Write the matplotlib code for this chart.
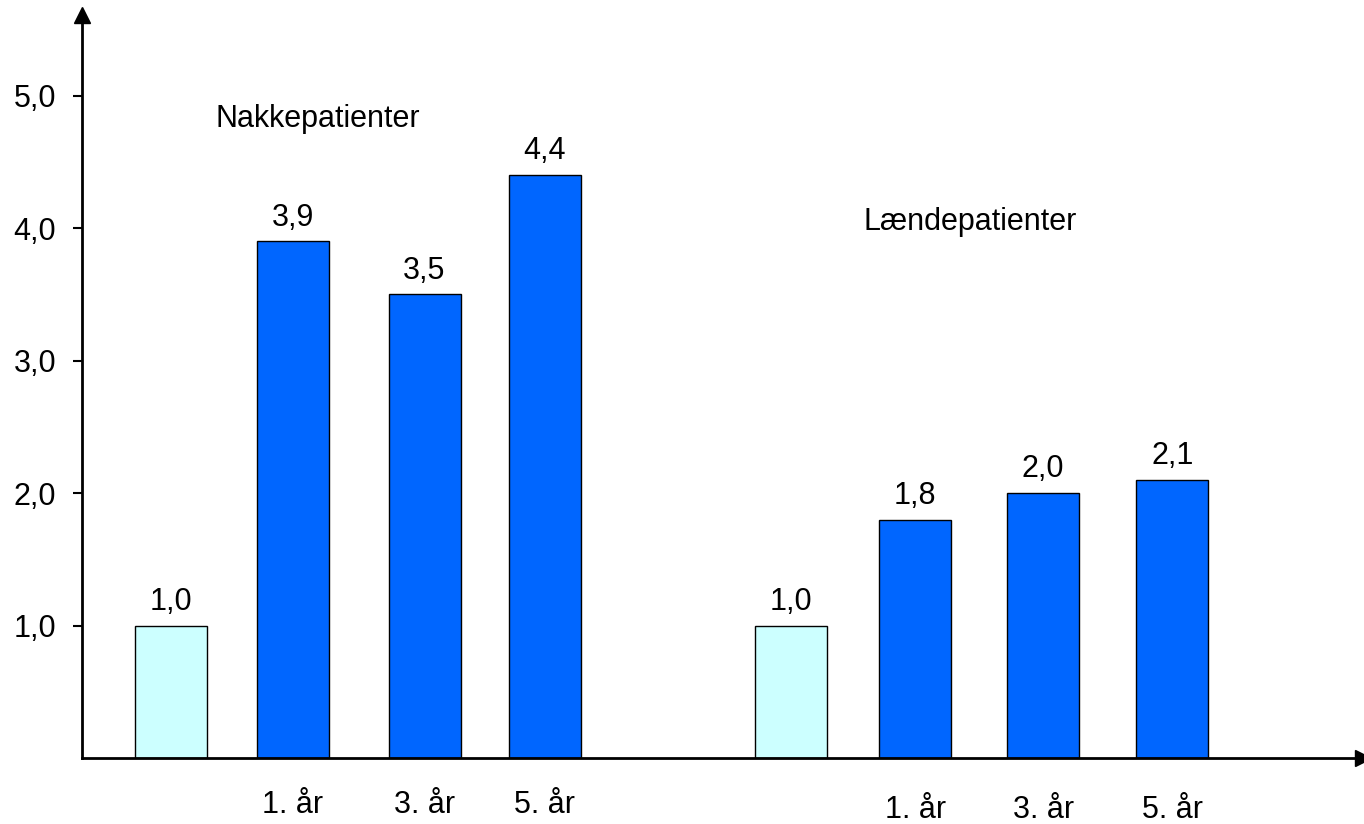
import numpy as np
import matplotlib.pyplot as plt

plt.rcParams['font.family'] = ['Liberation Sans', 'DejaVu Sans']

# data
values = [1.0, 3.9, 3.5, 4.4, 1.0, 1.8, 2.0, 2.1]
positions = [0, 0.972, 2.02, 2.98, 4.94, 5.93, 6.95, 7.98]
is_baseline = [True, False, False, False, True, False, False, False]
tick_labels = ["", "1. år", "3. år", "5. år", "", "1. år", "3. år", "5. år"]
group_names = ["Nakkepatienter", "Lændepatienter"]
yticks = [1.0, 2.0, 3.0, 4.0, 5.0]

light = "#CCFFFF"
blue = "#0066FF"
fs = 22

fig = plt.figure(figsize=(13.64, 8.24), dpi=100)
W, H = 1364, 824
ax = fig.add_axes([82 / W, (824 - 758) / H, (1363 - 82) / W, (758 - 15) / H])

colors = [light if b else blue for b in is_baseline]
ax.bar(positions, values, width=0.574, color=colors, edgecolor="black", linewidth=1.0, zorder=2)

# value labels above bars
for x, v in zip(positions, values):
    ax.text(x, v + 0.12, f"{v:.1f}".replace(".", ","), ha="center", va="baseline", fontsize=fs)

# category labels under the bars, second group sits a bit lower
for i, (x, lab) in enumerate(zip(positions, tick_labels)):
    if not lab:
        continue
    y = -0.415 if i < 4 else -0.45
    ax.text(x, y, lab, ha="center", va="baseline", fontsize=fs)

ax.text(1.17, 4.762, group_names[0], ha="center", va="baseline", fontsize=fs)
ax.text(6.37, 3.99, group_names[1], ha="center", va="baseline", fontsize=fs)

ax.set_xlim(-0.71, 9.5)
ax.set_ylim(0, 5.61)
ax.set_yticks(yticks)
ax.set_yticklabels([f"{t:.1f}".replace(".", ",") for t in yticks], fontsize=fs)
ax.tick_params(axis="y", length=6.5, width=1.5, pad=12)
ax.set_xticks([])

for s in ["top", "right"]:
    ax.spines[s].set_visible(False)
ax.spines["left"].set_linewidth(2)
ax.spines["bottom"].set_linewidth(2)

# arrow heads
ax.plot(0, 1, marker="^", color="black", markersize=11, transform=ax.transAxes, clip_on=False)
ax.plot(1, 0, marker=">", color="black", markersize=11, transform=ax.transAxes, clip_on=False)

fig.savefig("out.png", dpi=100)
